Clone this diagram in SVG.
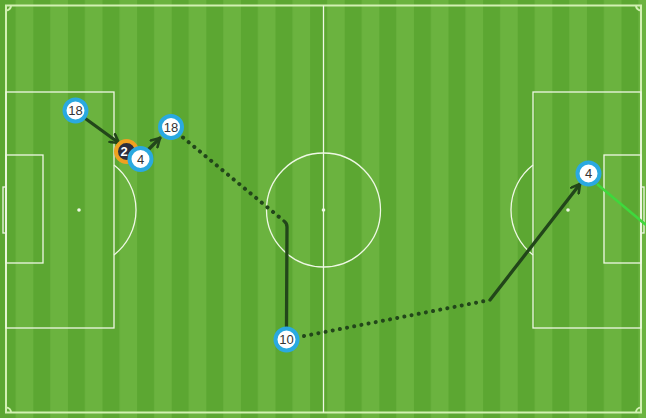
<svg xmlns="http://www.w3.org/2000/svg" width="646" height="418" viewBox="0 0 646 418">
<defs>
<pattern id="stripes" x="-1.3" y="0" width="34.6" height="418" patternUnits="userSpaceOnUse">
<rect x="0" y="0" width="34.6" height="418" fill="#6bb33f"/>
<rect x="0" y="0" width="17" height="418" fill="#5ca732"/>
</pattern>
<marker id="arr" viewBox="0 0 10 10" refX="8" refY="5" markerWidth="3.6" markerHeight="3.6" orient="auto" markerUnits="strokeWidth">
<path d="M1,1 L8,5 L1,9" fill="none" stroke="#22461a" stroke-width="2.2" stroke-linecap="round" stroke-linejoin="round"/>
</marker>
</defs>
<style>
.line{fill:none;stroke:#eef8e4;stroke-width:1.3}
.outer{fill:none;stroke:#d2f0b2;stroke-width:2}
.pass{fill:none;stroke:#22461a;stroke-width:3.3;stroke-linecap:round}
.dot{fill:none;stroke:#22461a;stroke-width:4;stroke-linecap:round;stroke-dasharray:0.1 7.2}
.shot{fill:none;stroke:#3fd83c;stroke-width:2.6}
.node circle.ring{fill:#ffffff;stroke:#2aa9e0;stroke-width:4}
.node text{font-family:"Liberation Sans",Arial,sans-serif;font-size:13px;fill:#333333;text-anchor:middle}
.opp circle{fill:#2b2d3e;stroke:#f0a020;stroke-width:4}
.opp text{font-family:"Liberation Sans",Arial,sans-serif;font-size:13px;font-weight:bold;fill:#ffffff;text-anchor:middle}
</style>
<rect x="0" y="0" width="646" height="418" fill="url(#stripes)"/>
<g id="pitch">
<rect class="outer" x="6" y="5.5" width="635" height="407"/>
<path class="outer" d="M6,10.5 A5,5 0 0 0 11,5.5 M636,5.5 A5,5 0 0 0 641,10.5 M641,407.5 A5,5 0 0 0 636,412.5 M11,412.5 A5,5 0 0 0 6,407.5"/>
<line class="line" x1="323.5" y1="5.5" x2="323.5" y2="412.5"/>
<circle class="line" cx="323.5" cy="210" r="57"/>
<circle cx="323.5" cy="210" r="1.8" fill="#eef8e4"/>
<rect class="line" x="6" y="92" width="108" height="236"/>
<rect class="line" x="6" y="155" width="37" height="108"/>
<rect class="line" x="3" y="187" width="3" height="46"/>
<circle cx="79" cy="210" r="1.8" fill="#eef8e4"/>
<path class="line" d="M114,165 A57,57 0 0 1 114,255"/>
<rect class="line" x="533" y="92" width="108" height="236"/>
<rect class="line" x="604" y="155" width="37" height="108"/>
<rect class="line" x="641" y="187" width="3" height="46"/>
<circle cx="568" cy="210" r="1.8" fill="#eef8e4"/>
<path class="line" d="M533,165 A57,57 0 0 0 533,255"/>
</g>
<g id="connectors">
<line class="pass" x1="86" y1="119" x2="119" y2="143" marker-end="url(#arr)"/>
<line class="pass" x1="149" y1="149" x2="160" y2="138" marker-end="url(#arr)"/>
<line class="dot" x1="183" y1="137.5" x2="284" y2="221"/>
<path class="pass" d="M284,221 Q287,223 287,227 L286.5,327"/>
<line class="dot" x1="304" y1="336" x2="490" y2="300"/>
<line class="pass" x1="490" y1="300" x2="580" y2="184" marker-end="url(#arr)"/>
<line class="shot" x1="597" y1="184" x2="646" y2="225"/>
</g>
<g id="opp-2" class="opp">
<circle cx="126.5" cy="151.5" r="10.5"/>
<text x="124" y="156">2</text>
</g>
<g id="node-18a" class="node">
<circle class="ring" cx="75.5" cy="110.5" r="11"/>
<text x="75.5" y="115">18</text>
</g>
<g id="node-4a" class="node">
<circle class="ring" cx="140.5" cy="159" r="11"/>
<text x="140.5" y="163.5">4</text>
</g>
<g id="node-18b" class="node">
<circle class="ring" cx="171" cy="127" r="11"/>
<text x="171" y="131.5">18</text>
</g>
<g id="node-10" class="node">
<circle class="ring" cx="286.5" cy="339.5" r="11"/>
<text x="286.5" y="344">10</text>
</g>
<g id="node-4b" class="node">
<circle class="ring" cx="588.5" cy="173.5" r="11"/>
<text x="588.5" y="178">4</text>
</g>
</svg>
